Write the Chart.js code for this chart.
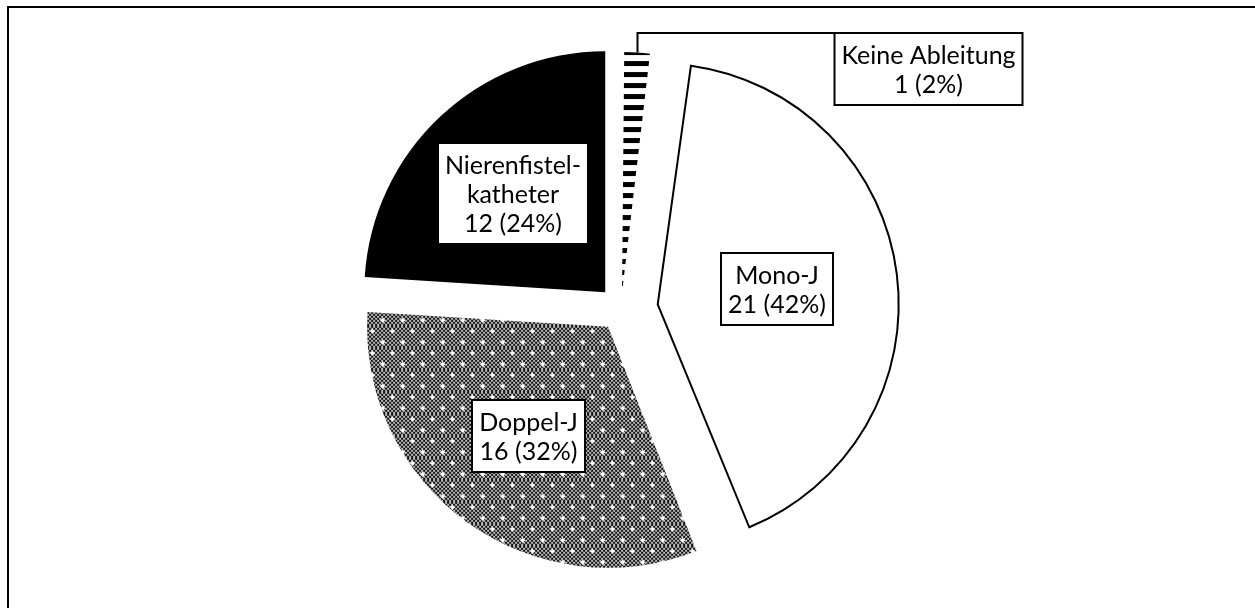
<!DOCTYPE html>
<html>
<head>
<meta charset="utf-8">
<script src="https://cdn.jsdelivr.net/npm/chart.js"></script>
<style>
  html, body { margin: 0; padding: 0; background: #fff; overflow: hidden; }
  #wrap { position: relative; width: 1255px; height: 608px; overflow: hidden; }
  #frame { position: absolute; left: 7px; top: 6px; width: 1400px; height: 800px; border-left: 2px solid #000; border-top: 2px solid #000; }
  #chart1 { position: absolute; left: 0; top: 0; }
</style>
</head>
<body>
<div id="wrap">
  <div id="frame"></div>
  <canvas id="chart1" width="1255" height="608"></canvas>
</div>
<script>
// data, clockwise from 12 o'clock
var categories = ["Keine Ableitung", "Mono-J", "Doppel-J", "Nierenfistelkatheter"];
var labelLines = [["Keine Ableitung"], ["Mono-J"], ["Doppel-J"], ["Nierenfistel-", "katheter"]];
var counts = [1, 21, 16, 12];
var percents = [2, 42, 32, 24];

var FONT = "25px Lato";
var LINE_H = 29;

function stripePattern() {
  var c = document.createElement("canvas");
  c.width = 8; c.height = 11;
  var x = c.getContext("2d");
  x.fillStyle = "#fff"; x.fillRect(0, 0, 8, 11);
  x.fillStyle = "#000"; x.fillRect(0, 0, 8, 5);
  return x.createPattern(c, "repeat");
}

function dotPattern() {
  var c = document.createElement("canvas");
  c.width = 20; c.height = 22;
  var x = c.getContext("2d");
  for (var i = 0; i < 20; i++) {
    for (var j = 0; j < 22; j++) {
      x.fillStyle = ((Math.floor(i / 2) + Math.floor(j / 2)) % 2 == 0) ? "#151515" : "#b8b8b8";
      x.fillRect(i, j, 1, 1);
    }
  }
  function plus(px, py) {
    x.fillStyle = "#fff";
    x.fillRect(px - 2, py, 5, 1);
    x.fillRect(px, py - 2, 1, 5);
    x.fillRect(px - 1, py - 1, 3, 3);
  }
  plus(5, 5);
  plus(15, 16);
  return x.createPattern(c, "repeat");
}

// Chart.js grows small exploded slices a bit; keep every slice at the same radius
var evenRadius = {
  id: "evenRadius",
  beforeDatasetsDraw: function(chart) {
    var meta = chart.getDatasetMeta(0);
    var base = meta.controller.outerRadius;
    meta.data.forEach(function(arc) {
      var off = (arc.options.offset || 0) / 4;
      var fix = 1 - Math.sin(Math.min(Math.PI, arc.circumference));
      arc.outerRadius = base - off * fix;
    });
  }
};

var labelRadius = [0, 0.5, 0.56, 0.56];

var boxLabels = {
  id: "boxLabels",
  afterDatasetsDraw: function(chart) {
    var ctx = chart.ctx;
    var meta = chart.getDatasetMeta(0);
    var R = meta.controller.outerRadius;
    ctx.save();
    ctx.font = FONT;
    ctx.textAlign = "center";
    ctx.textBaseline = "middle";
    ctx.lineWidth = 2;
    ctx.strokeStyle = "#000";
    meta.data.forEach(function(arc, i) {
      var lines = labelLines[i].concat([counts[i] + " (" + percents[i] + "%)"]);
      var mid = (arc.startAngle + arc.endAngle) / 2;
      var shift = (arc.options.offset || 0) / 4;
      var cx = arc.x + Math.cos(mid) * shift;
      var cy = arc.y + Math.sin(mid) * shift;
      var w = 0;
      lines.forEach(function(l) { w = Math.max(w, ctx.measureText(l).width); });
      w = Math.round(w + 14);
      var h = lines.length * LINE_H + 14;
      var bx, by;
      if (labelRadius[i] == 0) {
        var sx = Math.round(cx + Math.cos(mid) * R) + 0.5;
        var sy = cy + Math.sin(mid) * R;
        bx = sx + 197;
        by = Math.round(sy - 20);
        ctx.beginPath();
        ctx.moveTo(sx, sy);
        ctx.lineTo(sx, by);
        ctx.lineTo(bx, by);
        ctx.stroke();
      } else {
        var lx = cx + Math.cos(mid) * R * labelRadius[i];
        var ly = cy + Math.sin(mid) * R * labelRadius[i];
        bx = Math.round(lx - w / 2);
        by = Math.round(ly - h / 2);
      }
      ctx.fillStyle = "#fff";
      ctx.fillRect(bx, by, w, h);
      ctx.strokeRect(bx, by, w, h);
      ctx.fillStyle = "#000";
      lines.forEach(function(l, k) {
        ctx.fillText(l, bx + w / 2, by + 8 + LINE_H * (k + 0.5));
      });
    });
    ctx.restore();
  }
};

var chart1 = new Chart(document.getElementById("chart1"), {
  type: "pie",
  data: {
    labels: categories,
    datasets: [{
      data: counts,
      backgroundColor: [stripePattern(), "#fff", dotPattern(), "#000"],
      borderColor: "#000",
      borderWidth: [0, 2, 0, 0],
      borderJoinStyle: "miter",
      offset: [64, 148, 88, 92]
    }]
  },
  options: {
    responsive: false,
    animation: false,
    radius: 241,
    layout: { padding: { left: 0, right: 13, top: 10, bottom: 0 } },
    plugins: {
      legend: { display: false },
      tooltip: { enabled: false }
    },
    events: []
  },
  plugins: [evenRadius, boxLabels]
});
</script>
</body>
</html>
